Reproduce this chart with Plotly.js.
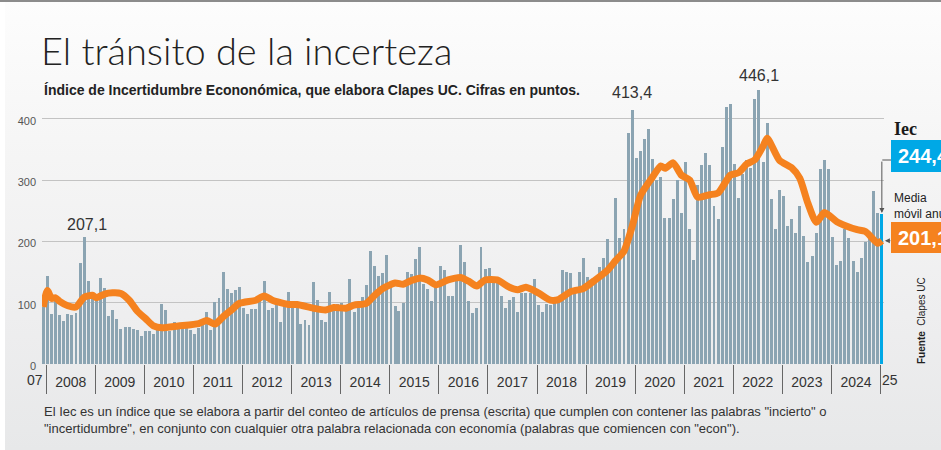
<!DOCTYPE html>
<html><head><meta charset="utf-8">
<script src="https://cdn.plot.ly/plotly-3.0.1.min.js"></script>
<style>
html,body{margin:0;padding:0;background:#fff;overflow:hidden;}
#bg{position:absolute;left:5px;top:0;width:936px;height:450px;background:linear-gradient(to bottom,#fdfdfd 0%,#f5f5f5 35%,#eeeeef 70%,#e7e8e9 100%);}
#topline{position:absolute;left:0;top:0;width:941px;height:2px;background:#8c8c8c;}
#chart{position:absolute;left:0;top:0;width:941px;height:450px;}
</style></head><body>
<div id="bg"></div><div id="topline"></div><div id="chart"></div>
<script>
// ---- DATA ----
const firstMonth = '2007-12';
// Monthly Iec values (points), Dec 2007 .. Jan 2025
const iecMonthly = [
  93,                                                          // 2007-12
  143, 82, 104, 80, 70, 82, 80, 83, 165, 207.1, 135, 112,      // 2008
  105, 140, 124, 78, 88, 73, 57, 60, 60, 57, 55, 46,           // 2009
  54, 54, 49, 66, 98, 88, 54, 68, 66, 64, 62, 56,              // 2010
  49, 59, 73, 85, 55, 101, 108, 150, 122, 116, 121, 126,       // 2011
  91, 82, 90, 90, 104, 135, 88, 91, 99, 69, 98, 118,           // 2012
  98, 96, 66, 72, 64, 133, 105, 72, 69, 118, 94, 98,           // 2013
  100, 94, 139, 84, 92, 110, 128, 185, 160, 144, 149, 178,     // 2014
  125, 95, 87, 100, 150, 146, 171, 191, 131, 123, 102, 124,    // 2015
  160, 153, 111, 111, 137, 194, 166, 102, 83, 92, 191, 155,    // 2016
  157, 140, 135, 111, 92, 105, 110, 85, 116, 115, 116, 139,    // 2017
  97, 85, 98, 96, 100, 103, 154, 150, 149, 116, 150, 173,      // 2018
  142, 137, 138, 158, 173, 203, 155, 271, 206, 220, 377, 413.4,// 2019
  336, 347, 367, 383, 334, 300, 305, 238, 238, 269, 300, 246,  // 2020
  329, 220, 170, 292, 324, 344, 324, 258, 237, 354, 419, 424,  // 2021
  326, 270, 310, 333, 320, 432, 446.1, 330, 393, 269, 220, 284,// 2022
  274, 225, 237, 214, 258, 209, 167, 176, 214, 318, 333, 318,  // 2023
  207, 162, 168, 220, 206, 168, 150, 173, 199, 209, 282, 246,  // 2024
  244.4                                                        // 2025-01
];
// 12-month moving average, read at selected months
const mmMonths = ['2007-12','2008-01','2008-02','2008-03','2008-04','2008-06','2008-08','2008-10','2008-12','2009-01','2009-03','2009-05','2009-07','2009-09','2009-11','2010-01','2010-03','2010-05','2010-09','2011-02','2011-04','2011-06','2011-08','2011-10','2011-12','2012-04','2012-06','2012-08','2012-10','2012-12','2013-02','2013-06','2013-09','2013-11','2014-02','2014-04','2014-07','2014-09','2014-11','2015-02','2015-04','2015-06','2015-08','2015-10','2015-12','2016-03','2016-06','2016-08','2016-10','2016-12','2017-03','2017-06','2017-08','2017-10','2018-01','2018-04','2018-06','2018-09','2018-12','2019-03','2019-06','2019-08','2019-10','2019-12','2020-02','2020-05','2020-07','2020-08','2020-10','2020-12','2021-02','2021-04','2021-07','2021-09','2021-12','2022-02','2022-04','2022-06','2022-08','2022-09','2022-12','2023-03','2023-05','2023-07','2023-09','2023-11','2024-02','2024-04','2024-07','2024-09','2024-12','2025-01'];
const mmValues = [93,120,107,108,102,95,93,109,112,108,114,116,115,104,86,74,62,59,62,66,71,65,77,88,99,104,111,104,100,97,97,91,88,92,91,96,99,112,123,132,130,136,140,137,129,137,141,135,127,137,137,125,121,125,116,104,105,118,123,137,153,169,184,224,275,305,323,319,328,308,300,272,276,279,308,312,326,333,355,368,332,320,303,262,231,247,232,226,219,216,197,201.1];
const yearLabels = ['2008','2009','2010','2011','2012','2013','2014','2015','2016','2017','2018','2019','2020','2021','2022','2023','2024'];
const edgeLabels = ['07','25'];
const peakMonths = ['2008-10','2019-12','2022-07'];
const peakTexts = ['207,1','413,4','446,1'];
const titleText = 'El tránsito de la incerteza';
const subtitleText = 'Índice de Incertidumbre Econonómica, que elabora Clapes UC. Cifras en puntos.';
const noteText = 'El Iec es un índice que se elabora a partir del conteo de artículos de prensa (escrita) que cumplen con contener las palabras "incierto" o<br>"incertidumbre", en conjunto con cualquier otra palabra relacionada con economía (palabras que comiencen con "econ").';
const sourceText = '<b>Fuente</b>  Clapes UC';

// ---- HELPERS ----
const W = 941, H = 450, L = 42, R = 57, T = 88, B = 86;
const plotW = W - L - R, plotH = H - T - B;
const px = x => (x - L) / plotW;
const py = y => (H - B - y) / plotH;
function monthDate(ym){ return ym + '-10'; }
function addMonths(ym, n){
  const [y, m] = ym.split('-').map(Number);
  const t = (m - 1) + n;
  const yy = y + Math.floor(t / 12), mm = ((t % 12) + 12) % 12 + 1;
  return yy + '-' + String(mm).padStart(2, '0');
}
const fmt = v => v.toFixed(1).replace('.', ',');

const barMonths = iecMonthly.map((_, i) => addMonths(firstMonth, i));
const barX = barMonths.map(monthDate);
const barColors = iecMonthly.map((_, i) => i === iecMonthly.length - 1 ? '#00a8e6' : '#8ba4b2');
const lastX = barX[barX.length - 1];
const lastIec = iecMonthly[iecMonthly.length - 1];
const lastMM = mmValues[mmValues.length - 1];

const yearStarts = yearLabels.map(y => y + '-01-01').concat(['2025-01-01']);
const yearMids = yearLabels.map(y => y + '-07-02');

const SANS = '"Liberation Sans", Arial, sans-serif';

const traces = [
  {type:'bar', x: barX, y: iecMonthly, width: 22 * 86400000,
   marker:{color: barColors, line:{width:0}}, hoverinfo:'skip'},
  {type:'scatter', mode:'lines', x: mmMonths.map(monthDate), y: mmValues,
   line:{color:'#f5821f', width:7, shape:'spline', smoothing:0.6}, hoverinfo:'skip'}
];

const peakShift = [2, 7, 4];
const annotations = [];
peakMonths.forEach((m, k) => {
  const idx = barMonths.indexOf(m);
  annotations.push({x: monthDate(m), y: iecMonthly[idx], xref:'x', yref:'y', text: peakTexts[k],
    showarrow:false, yanchor:'bottom', yshift: peakShift[k], xshift: k === 0 ? 3 : 0,
    font:{family: SANS, size:16, color:'#333'}});
});
annotations.push(
  {xref:'paper', yref:'paper', x: px(35), y: py(380), text: edgeLabels[0], showarrow:false,
   xanchor:'center', yanchor:'middle', font:{family: SANS, size:14, color:'#333'}},
  {xref:'paper', yref:'paper', x: px(890), y: py(380), text: edgeLabels[1], showarrow:false,
   xanchor:'center', yanchor:'middle', font:{family: SANS, size:14, color:'#333'}},
  {xref:'paper', yref:'paper', x: px(42), y: py(90), text: subtitleText, showarrow:false,
   xanchor:'left', yanchor:'middle', font:{family: SANS, size:14, color:'#222', weight:'bold'}},
  {xref:'paper', yref:'paper', x: px(42), y: py(420), text: noteText, showarrow:false, align:'left',
   xanchor:'left', yanchor:'middle', font:{family: SANS, size:13, color:'#333'}},
  {xref:'paper', yref:'paper', x: px(892), y: py(129), text: 'Iec', showarrow:false,
   xanchor:'left', yanchor:'middle', font:{family:'"Liberation Serif", "DejaVu Serif", serif', size:18, color:'#1a1a1a', weight:'bold'}},
  {xref:'paper', yref:'paper', x: px(896), y: py(156), text: fmt(lastIec), showarrow:false,
   xanchor:'left', yanchor:'middle', font:{family: SANS, size:20, color:'#ffffff', weight:'bold'}},
  {xref:'paper', yref:'paper', x: px(896), y: py(238), text: fmt(lastMM), showarrow:false,
   xanchor:'left', yanchor:'middle', font:{family: SANS, size:20, color:'#ffffff', weight:'bold'}},
  {xref:'paper', yref:'paper', x: px(892), y: py(206), text: 'Media<br>móvil anual', showarrow:false, align:'left',
   xanchor:'left', yanchor:'middle', font:{family: SANS, size:12, color:'#222'}},
  {xref:'paper', yref:'paper', x: px(921), y: py(321), text: sourceText, showarrow:false, textangle:-90,
   xanchor:'center', yanchor:'middle', font:{family: SANS, size:10, color:'#222'}},
  {x: lastX, y: lastIec, xref:'x', yref:'y', ax:0, ay:-54, text:'', showarrow:true,
   arrowhead:2, arrowsize:1, arrowwidth:1, arrowcolor:'#555', standoff:1},
  {x: lastX, y: lastMM, xref:'x', yref:'y', ax:10, ay:0, text:'', showarrow:true,
   arrowhead:2, arrowsize:1, arrowwidth:1, arrowcolor:'#555', standoff:3}
);

const shapes = [
  {type:'rect', xref:'paper', yref:'paper', x0: px(891), x1: px(965), y0: py(172), y1: py(140),
   fillcolor:'#00a8e6', line:{width:0}, layer:'below'},
  {type:'rect', xref:'paper', yref:'paper', x0: px(891), x1: px(965), y0: py(253), y1: py(222),
   fillcolor:'#f5821f', line:{width:0}, layer:'below'},
  {type:'line', xref:'paper', yref:'paper', x0: px(882.3), x1: px(891), y0: py(160), y1: py(160),
   line:{color:'#555', width:1}}
];

const layout = {
  width: W, height: H,
  margin:{l:L, r:R, t:T, b:B, pad:0},
  paper_bgcolor:'rgba(0,0,0,0)', plot_bgcolor:'rgba(0,0,0,0)',
  showlegend:false, bargap:0,
  title:{text: titleText, xref:'container', yref:'container', x: 41/W, xanchor:'left',
         y: 1 - 52/H, yanchor:'middle', pad:{l:0,r:0,t:0,b:0},
         font:{family:'Lato, "Open Sans", sans-serif', size:38, weight:300, color:'#222'}},
  xaxis:{type:'date', range:['2007-12-01','2025-01-26'], tickmode:'array', tickvals: yearMids, ticktext: yearLabels,
         ticks:'', showgrid:false, zeroline:false, showline:false, ticklabelstandoff:8,
         tickfont:{family: SANS, size:14, color:'#333'},
         minor:{tickmode:'array', tickvals: yearStarts, ticks:'outside', ticklen:29, tickcolor:'#666', tickwidth:1, showgrid:false},
         fixedrange:true},
  yaxis:{range:[0,450], tickmode:'array', tickvals:[0,100,200,300,400], ticks:'', showgrid:true,
         gridcolor:'#c3c3c3', gridwidth:1, zeroline:false, showline:false, ticklabelstandoff:5, ticklabelshift:2,
         tickfont:{family: SANS, size:11, color:'#555'}, fixedrange:true},
  annotations, shapes
};

Plotly.newPlot('chart', traces, layout, {displayModeBar:false, staticPlot:true});
</script></body></html>
